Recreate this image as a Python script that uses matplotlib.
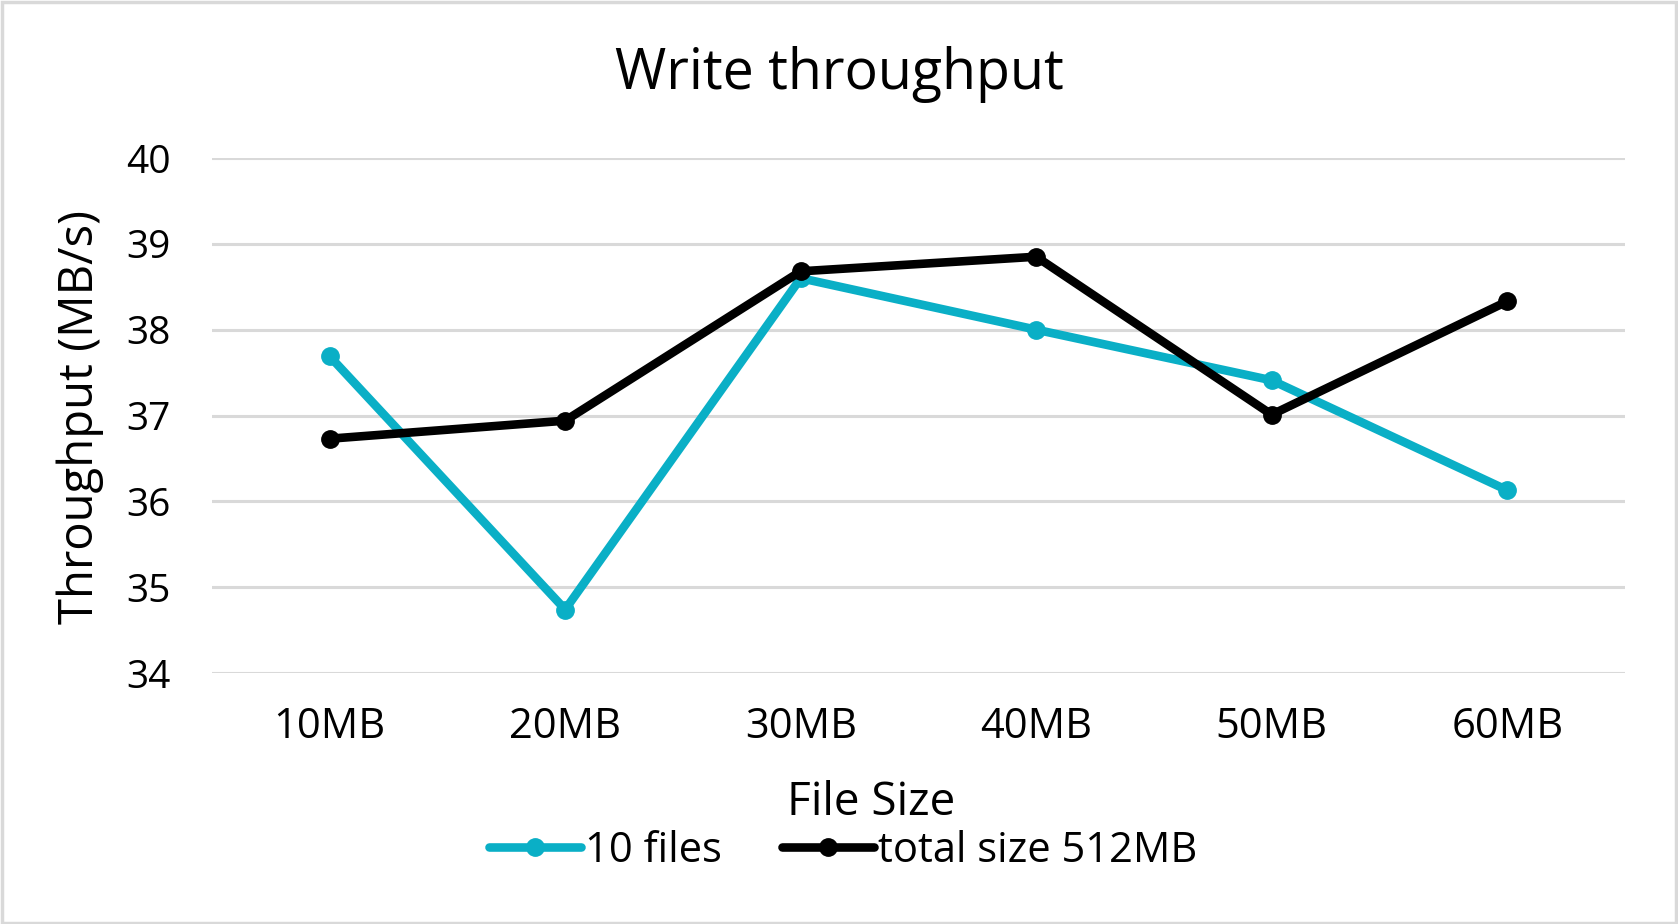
import matplotlib.pyplot as plt
from matplotlib.patches import Rectangle

categories = ["10MB", "20MB", "30MB", "40MB", "50MB", "60MB"]
ten_files = [37.69, 34.74, 38.60, 38.00, 37.41, 36.13]
total_512 = [36.73, 36.94, 38.68, 38.85, 37.01, 38.33]

plt.rcParams['font.family'] = ['Open Sans', 'DejaVu Sans']

fig = plt.figure(figsize=(16.78, 9.24), dpi=100)
ax = fig.add_axes([0.1263, 0.2716, 0.8421, 0.5574])

x = range(len(categories))
ax.plot(x, ten_files, color="#0AAFC6", lw=6.2, marker="o", ms=12.5,
        solid_capstyle="round", label="10 files", zorder=3)
ax.plot(x, total_512, color="black", lw=6.2, marker="o", ms=12.5,
        solid_capstyle="round", label="total size 512MB", zorder=4)

ax.set_xlim(-0.5, len(categories) - 0.5)
ax.set_ylim(34, 40)
ax.set_yticks(range(34, 41))
ax.set_xticks(list(x))
ax.set_xticklabels(categories)
ax.tick_params(axis="both", length=0, colors="black")
ax.tick_params(axis="x", labelsize=30, pad=24)
ax.tick_params(axis="y", labelsize=28, pad=30)
ax.grid(axis="y", color="#D9D9D9", lw=2.2)
ax.set_axisbelow(True)
for s in ax.spines.values():
    s.set_visible(False)

fig.text(0.5, 0.919, "Write throughput", fontsize=40, ha="center", va="center")
fig.text(0.519, 0.131, "File Size", fontsize=33, ha="center", va="center")
fig.text(0.048, 0.549, "Throughput (MB/s)", fontsize=34, ha="center", va="center",
         rotation=90)

handles, labels = ax.get_legend_handles_labels()
fig.legend(handles, labels, loc="center", bbox_to_anchor=(0.5026, 0.079), ncol=2,
           frameon=False, fontsize=30, handlelength=2.2,
           handletextpad=0.1, columnspacing=1.45)

fig.patches.append(Rectangle((0.001, 0.001), 0.998, 0.997, transform=fig.transFigure,
                             fill=False, edgecolor="#D9D9D9", lw=2.5))

fig.savefig("out.png", dpi=100)
